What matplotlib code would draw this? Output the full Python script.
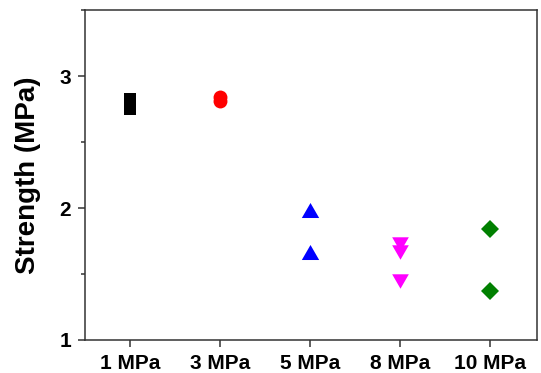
import numpy as np
import matplotlib
matplotlib.use('Agg')
import matplotlib.pyplot as plt
from matplotlib.ticker import MultipleLocator

plt.rcParams['font.family'] = ['Liberation Sans', 'DejaVu Sans']
plt.rcParams['font.weight'] = 'bold'

# Data
groups = ['1 MPa', '3 MPa', '5 MPa', '8 MPa', '10 MPa']
s1 = [2.83, 2.79, 2.75]
s3 = [2.84, 2.81]
s5 = [1.985, 1.67]
s8 = [1.73, 1.67, 1.445]
s10 = [1.84, 1.37]

tri_up = [(-1, -0.866), (1, -0.866), (0, 0.866)]
tri_dn = [(-1, 0.866), (1, 0.866), (0, -0.866)]

styles = [
  (s1, 's', 'black', 8.8),
  (s3, 'o', 'red', 10),
  (s5, tri_up, 'blue', 12.5),
  (s8, tri_dn, 'magenta', 12),
  (s10, 'D', 'green', 9.2),
]

fig = plt.figure(figsize=(5.41, 3.73), dpi=100)
ax = fig.add_axes([0.157, 0.0885, 0.836, 0.884])

for i, (vals, m, c, ms) in enumerate(styles):
  xs = np.full(len(vals), i + 1)
  ax.plot(xs, vals, linestyle='none', marker=m, color=c,
          markersize=ms, markeredgewidth=0)

ax.set_xlim(0.5, 5.52)
ax.set_ylim(1, 3.5)
ax.set_xticks(np.arange(1, len(groups) + 1))
ax.set_xticklabels(groups)
ax.yaxis.set_major_locator(MultipleLocator(1))
ax.yaxis.set_minor_locator(MultipleLocator(0.5))

for sp in ax.spines.values():
  sp.set_color('#333333')
  sp.set_linewidth(1.1)
ax.tick_params(axis='both', which='major', length=5, width=1.1,
               color='#333333', labelsize=15, pad=5)
ax.tick_params(axis='y', which='minor', length=3, width=1.1, color='#333333')
ax.tick_params(axis='x', which='minor', length=0)

ax.set_ylabel('Strength (MPa)', fontsize=20, fontweight='bold', labelpad=13)

fig.savefig('out.png', dpi=100)
